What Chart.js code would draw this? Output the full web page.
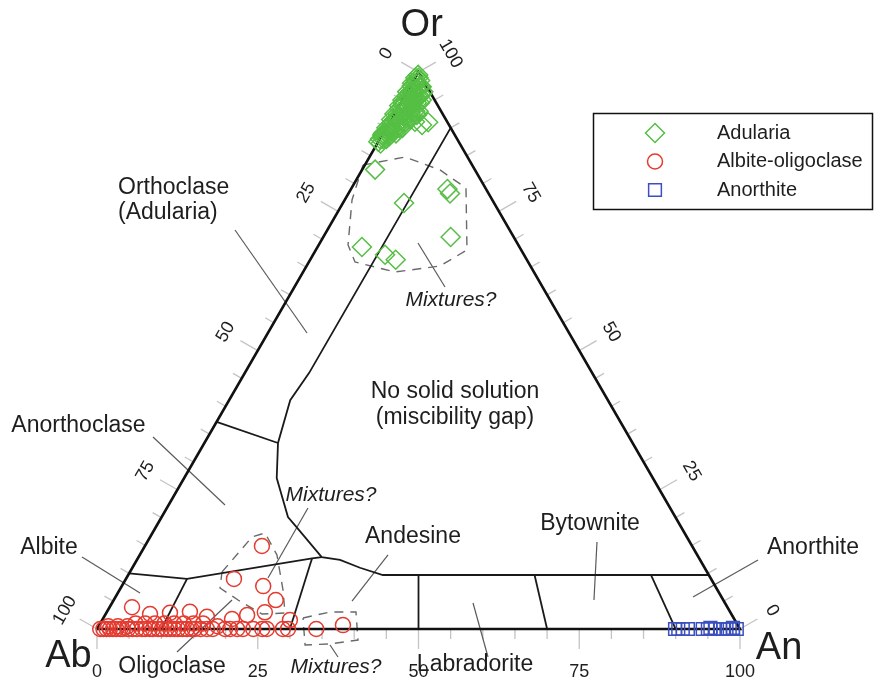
<!DOCTYPE html>
<html><head><meta charset="utf-8">
<script src="https://cdn.jsdelivr.net/npm/chart.js@4.4.1/dist/chart.umd.min.js"></script>
<style>html,body{margin:0;padding:0;background:#fff}canvas{display:block}</style>
</head><body>
<canvas id="c" width="874" height="683"></canvas>
<script>
// Feldspar analyses, mol % as [Ab, An, Or]
const adularia = [
  [1,0,99],[0.5,0.5,99],[0.3,0.2,99.5],[0.5,1,98.5],[1.2,0.3,98.5],[1.5,0.5,98],[2,0,98],[1,1.5,97.5],
  [0.8,1.8,97.4],[2.3,0.2,97.5],[1.8,1.2,97],[1,2.5,96.5],[2.5,1,96.5],[3,0.5,96.5],[2.8,0.7,96.5],[3.5,0,96.5],
  [2,2,96],[1.5,2.5,96],[4,0.3,95.7],[3,1.5,95.5],[3.2,1.3,95.5],[2.6,1.9,95.5],[4,1,95],[4.5,0.5,95],[5,0,95],
  [2,3,95],[3.5,2,94.5],[3,2.5,94.5],[2.5,3,94.5],[3.8,1.7,94.5],[5.2,0.3,94.5],[4,2,94],[4.8,1.2,94],
  [5.5,0.5,94],[6,0,94],[5,1.5,93.5],[6.2,0.3,93.5],[4,3,93],[3.5,3.5,93],[4.7,2.3,93],[5.8,1.2,93],
  [5,2.5,92.5],[6.5,1,92.5],[7,0.5,92.5],[7.5,0,92.5],[6,2,92],[6.3,1.7,92],[7.2,1,91.8],[5.5,3,91.5],
  [8,0.5,91.5],[7.8,0.7,91.5],[8.5,0,91.5],[6.5,2.5,91],[7.5,1.5,91],[7,2,91],[8.8,0.4,90.8],[8.2,1.3,90.5],
  [7.5,2.5,90],[8,2,90],[8.5,1.5,90],[9,1,90],[9.5,0.5,90],[10,0,90],[9.8,0.7,89.5],[9.3,1.4,89.3],
  [9,2,89],[10,1,89],[10.5,0.5,89],[11,0,89],[10.3,1.2,88.5],[11.3,0.2,88.5],[11,1,88],[11.5,0.5,88],
  [12,0,88],[12.3,0.5,87.2],
  [12.5,0,87.5],[11.3,0,88.7],[9.6,0.8,89.6],[5.0,3.9,91.1],[4.2,5.3,90.5],[3.0,6.0,91.0],
  [4.1,3.6,92.3],[5.3,2.7,92.0],
  [15.5,2,82.5],[6,15,79],[6,15.8,78.2],[14,9.5,76.5],[9.8,19.8,70.4],[24.5,6.9,68.6],
  [21.6,11.2,67.2],[20.4,13.3,66.3]
];
const albiteOligoclase = [
  [99.5,0.5,0],[99,1,0],[98.5,1.5,0],[98,2,0],[97.5,2.5,0],[97,3,0],[96.4,3.6,0],[96,4,0],
  [95.2,4.8,0],[94.5,5.5,0],[93.8,6.2,0],[93,7,0],[92.5,7.5,0],[91.8,8.2,0],[91.3,8.7,0],[90.5,9.5,0],
  [89.9,10.1,0],[89.2,10.8,0],[88.6,11.4,0],[88,12,0],[87.4,12.6,0],[86.7,13.3,0],[86,14,0],[85.3,14.7,0],
  [84.8,15.2,0],[83.9,16.1,0],[82.9,17.1,0],[82,18,0],[80.1,19.9,0],[79.3,20.7,0],[78.2,21.8,0],
  [77.3,22.7,0],[75.7,24.3,0],[74.3,25.7,0],[73.6,26.4,0],[71.1,28.9,0],[70.3,29.7,0],
  [98,1.5,0.5],[96.5,3,0.5],[95,4.5,0.5],[93.5,5.5,1],[92,7,1],[90.5,8.5,1],[89,10,1],
  [87.5,11.5,1],[86,13,1],[84.5,14.5,1],[83,16,1],[81,18.5,0.5],
  [92.6,3.5,3.9],[90.4,6.9,2.7],[87.2,9.9,2.9],[84,12.9,3.1],[81.8,16.0,2.2],[78.1,20.1,1.8],
  [75.4,22.1,2.5],[72.4,24.6,3.0],[69.2,29.2,1.6],
  [66.9,18.2,14.9],[74.2,16.8,9.0],[70.3,22.0,7.7],[69.6,25.2,5.2],[65.9,34.1,0],[61.4,37.9,0.7]
];
const anorthite = [
  [10.1,89.9,0],[9.6,90.4,0],[8.9,91.1,0],[8.1,91.9,0],[5.8,94.2,0],[5.0,95.0,0],[4.5,95.3,0.2],
  [3.9,96.1,0],[3.1,96.9,0],[2.6,97.4,0],[2.1,97.9,0],[1.6,98.4,0],[1,98.8,0.2],[0.5,99.5,0]
];

// Triangle outline and feldspar field boundaries, [Ab, An, Or]
const triangleEdge = [[100,0,0],[0,100,0],[0,0,100],[100,0,0]];
const solvusLine = [
  [0,10,90],[44,10,46],[49.4,9.5,41.1],[55.15,11.45,33.4],[58.5,14.4,27.1],[60.2,19.65,20.1],
  [59.8,22.0,18.2],[58.6,28.5,12.9],[56.0,31.6,12.4],[53.6,35.4,11.0],[50.7,39.6,9.7],[0,90.3,9.7]
];
const albiteTopLine = [[90,0,10],[81.5,9.5,9.0],[60.2,27.1,12.7],[58.6,28.5,12.9]];
const anorthoclaseLine = [[62.8,0,37.2],[55.15,11.45,33.4]];
const plagioclaseDividers = [
  [[90,10,0],[81.5,9.5,9.0]],
  [[70,30,0],[60.2,27.1,12.7]],
  [[50,50,0],[45.15,45.15,9.7]],
  [[30,70,0],[27.1,63.2,9.7]],
  [[10,90,0],[9.0,81.3,9.7]]
];
// Outlines around possible mixed analyses
const mixtureOutlines = [
  [[16.97,-0.29,83.32],[9.72,5.52,84.76],[5.44,12.13,82.43],[3.02,17.79,79.19],[8.43,23.51,68.06],
   [14.06,20.75,65.19],[21.59,14.3,64.11],[26.92,7.17,65.91],[26.48,4.56,68.96],[21.82,1.14,77.04],[16.97,-0.29,83.32]],
  [[75.44,14.32,10.24],[67.63,15.85,16.52],[65.25,17.51,17.24],[65.37,21.34,13.29],[67.57,25.43,7.0],
   [69.33,27.8,2.87],[73.0,24.31,2.69],[75.46,19.33,5.21],[77.19,15.45,7.36],[75.44,14.32,10.24]],
  [[66.97,31.05,1.98],[62.24,34.71,3.05],[58.2,38.75,3.05],[60.4,41.58,-1.98],[65.1,37.59,-2.69],
   [69.08,33.79,-2.87],[66.97,31.05,1.98]]
];

// Axis ticks (percent) and labelled values
const tickValues = [0,5,10,15,20,25,30,35,40,45,50,55,60,65,70,75,80,85,90,95,100];
const labelledTicks = [0,25,50,75,100];

// Field names and leader lines, in plot units (x across, y up)
const fieldLabels = [
  {text:'Orthoclase', x:3.27, y:68.6, align:'left'},
  {text:'(Adularia)', x:3.27, y:64.7, align:'left'},
  {text:'Anorthoclase', x:-2.88, y:31.57},
  {text:'Albite', x:-7.46, y:12.6},
  {text:'Oligoclase', x:11.66, y:-5.91},
  {text:'Labradorite', x:58.79, y:-5.6},
  {text:'Andesine', x:49.14, y:14.31},
  {text:'Bytownite', x:76.67, y:16.33},
  {text:'Anorthite', x:111.35, y:12.6},
  {text:'No solid solution', x:55.68, y:36.86},
  {text:'(miscibility gap)', x:55.68, y:32.81},
  {text:'Mixtures?', x:37.17, y:-5.91, italic:true},
  {text:'Mixtures?', x:36.39, y:20.84, italic:true},
  {text:'Mixtures?', x:55.05, y:51.17, italic:true}
];
const apexLabels = [
  {text:'Or', x:50.5, y:93.93},
  {text:'Ab', x:-4.43, y:-4.35},
  {text:'An', x:106.07, y:-3.11}
];
const leaderLines = [
  [[21.46,62.05],[32.66,46.03]],
  [[8.71,29.86],[19.91,19.28]],
  [[-2.33,11.2],[6.69,5.6]],
  [[12.44,-3.58],[21.0,4.51]],
  [[32.81,18.82],[26.59,7.93]],
  [[37.48,-4.35],[36.24,-2.49]],
  [[49.92,60.03],[54.12,53.19]],
  [[45.26,11.51],[39.66,4.35]],
  [[77.76,13.53],[77.29,4.51]],
  [[58.48,4.04],[60.81,-4.35]],
  [[102.8,10.73],[92.69,4.98]]
];

const seriesNames = ['Adularia','Albite-oligoclase','Anorthite'];
const seriesColors = ['#55bf44','#e43b30','#3b4fbf'];
const seriesShapes = ['rectRot','circle','rect'];
const seriesRadius = [9.5,7.5,9];

// Plot window in plot units
const X_MIN = -15.086, X_MAX = 120.84, Y_MIN = -8.398, Y_MAX = 97.823;
const H = Math.sqrt(3) / 2;

function tern(p) { // [Ab, An, Or] -> plot units
  return {x: p[1] + p[2] / 2, y: p[2] * H};
}
function xy(p) { return {x: p[0], y: p[1]}; }

function lineSet(points, opts) {
  return Object.assign({
    data: points, showLine: true, pointRadius: 0, pointHoverRadius: 0,
    borderColor: '#1a1a1a', borderWidth: 1.8, fill: false, order: 10, tension: 0
  }, opts || {});
}

const datasets = [];
[adularia, albiteOligoclase, anorthite].forEach((s, i) => {
  datasets.push({
    label: seriesNames[i], data: s.map(tern), showLine: false,
    pointStyle: seriesShapes[i], pointRadius: seriesRadius[i], pointHoverRadius: seriesRadius[i],
    borderColor: seriesColors[i], backgroundColor: 'rgba(0,0,0,0)', pointBorderWidth: 1.5,
    borderWidth: 1.5, order: 0
  });
});
mixtureOutlines.forEach(o => datasets.push(lineSet(o.map(tern), {borderColor:'#6a6a6a', borderWidth:1.4, borderDash:[9,7], order:12})));
leaderLines.forEach(l => datasets.push(lineSet(l.map(xy), {borderColor:'#5a5a5a', borderWidth:1.2, order:12})));
plagioclaseDividers.forEach(l => datasets.push(lineSet(l.map(tern))));
datasets.push(lineSet(anorthoclaseLine.map(tern)));
datasets.push(lineSet(albiteTopLine.map(tern)));
datasets.push(lineSet(solvusLine.map(tern)));
datasets.push(lineSet(triangleEdge.map(tern), {borderColor:'#111', borderWidth:2.6, order:9}));

const FONT = '"Liberation Sans", Arial, sans-serif';

const decor = {
  id: 'ternaryDecor',
  beforeDatasetsDraw(chart) {
    const ctx = chart.ctx, sx = chart.scales.x, sy = chart.scales.y;
    const px = p => ({x: sx.getPixelForValue(p.x), y: sy.getPixelForValue(p.y)});
    ctx.save();
    ctx.strokeStyle = '#c4c4c4';
    ctx.lineWidth = 1.3;
    const c = Math.sqrt(3) / 2;
    tickValues.forEach(v => {
      const len = labelledTicks.includes(v) ? 20 : 10;
      const b = px(tern([100 - v, v, 0]));
      const l = px(tern([v, 0, 100 - v]));
      const r = px(tern([0, 100 - v, v]));
      ctx.beginPath();
      ctx.moveTo(b.x, b.y); ctx.lineTo(b.x, b.y + len);
      ctx.moveTo(l.x, l.y); ctx.lineTo(l.x - c * len, l.y - 0.5 * len);
      ctx.moveTo(r.x, r.y); ctx.lineTo(r.x + c * len, r.y - 0.5 * len);
      ctx.stroke();
    });
    ctx.restore();
  },
  afterDatasetsDraw(chart) {
    const ctx = chart.ctx, sx = chart.scales.x, sy = chart.scales.y;
    const px = p => ({x: sx.getPixelForValue(p.x), y: sy.getPixelForValue(p.y)});
    const c = Math.sqrt(3) / 2;
    ctx.save();
    ctx.fillStyle = '#1e1e1e';
    ctx.textBaseline = 'middle';
    // tick labels
    ctx.font = '18px ' + FONT;
    ctx.textAlign = 'center';
    labelledTicks.forEach(v => {
      const b = px(tern([100 - v, v, 0]));
      ctx.fillText(String(v), b.x, b.y + 43);
      const l = px(tern([v, 0, 100 - v]));
      ctx.save(); ctx.translate(l.x - c * 37, l.y - 0.5 * 37); ctx.rotate(-Math.PI / 3);
      ctx.fillText(String(v), 0, 0); ctx.restore();
      const r = px(tern([0, 100 - v, v]));
      ctx.save(); ctx.translate(r.x + c * 37, r.y - 0.5 * 37); ctx.rotate(Math.PI / 3);
      ctx.fillText(String(v), 0, 0); ctx.restore();
    });
    // field names
    fieldLabels.forEach(f => {
      const p = px(f);
      ctx.font = (f.italic ? 'italic 21px ' : '23px ') + FONT;
      ctx.textAlign = f.align || 'center';
      ctx.fillText(f.text, p.x, p.y);
    });
    // end-member names
    ctx.font = '38px ' + FONT;
    ctx.textAlign = 'center';
    apexLabels.forEach(a => { const p = px(a); ctx.fillText(a.text, p.x, p.y); });
    ctx.restore();
  },
  afterDraw(chart) {
    const ctx = chart.ctx;
    ctx.save();
    ctx.strokeStyle = '#111';
    ctx.lineWidth = 1.5;
    ctx.strokeRect(593.5, 113.5, 279, 96);
    ctx.font = '20px ' + FONT;
    ctx.textBaseline = 'middle';
    ctx.textAlign = 'left';
    seriesNames.forEach((name, i) => {
      const y = 133 + i * 28.5;
      ctx.strokeStyle = seriesColors[i];
      ctx.fillStyle = 'rgba(0,0,0,0)';
      ctx.lineWidth = 1.5;
      Chart.helpers.drawPoint(ctx, {pointStyle: seriesShapes[i], radius: seriesRadius[i], rotation: 0, borderWidth: 1.5}, 655, y);
      ctx.fillStyle = '#1e1e1e';
      ctx.fillText(name, 717, y);
    });
    ctx.restore();
  }
};

new Chart(document.getElementById('c'), {
  type: 'scatter',
  data: {datasets},
  options: {
    responsive: false, animation: false, devicePixelRatio: 1,
    layout: {padding: 0, autoPadding: false},
    events: [],
    scales: {
      x: {type: 'linear', min: X_MIN, max: X_MAX, display: false},
      y: {type: 'linear', min: Y_MIN, max: Y_MAX, display: false}
    },
    plugins: {legend: {display: false}, tooltip: {enabled: false}}
  },
  plugins: [decor]
});
</script>
</body></html>
